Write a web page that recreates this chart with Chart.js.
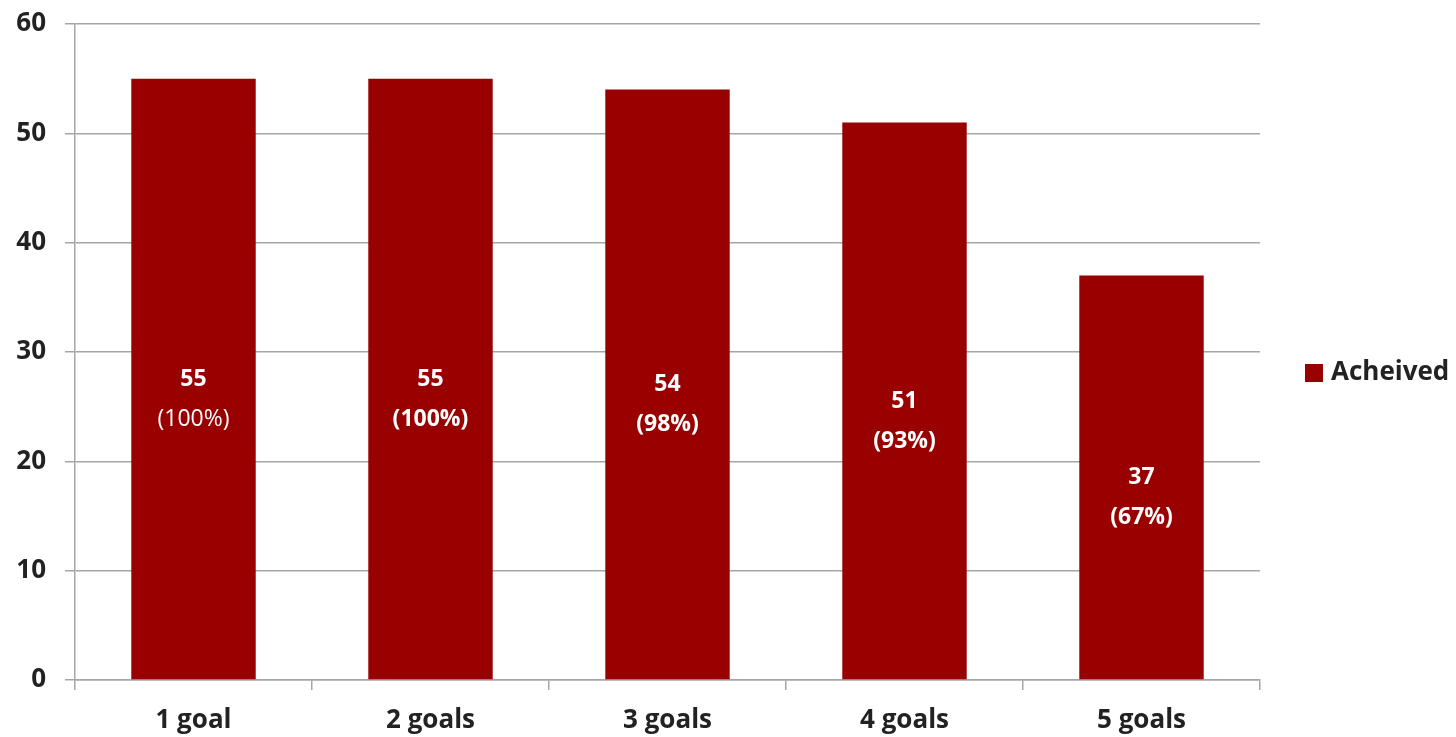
<!DOCTYPE html>
<html>
<head>
<meta charset="utf-8">
<script src="https://cdn.jsdelivr.net/npm/chart.js@4"></script>
<style>
html,body{margin:0;padding:0;background:#fff;}
#wrap{width:1456px;height:737px;}
</style>
</head>
<body>
<div id="wrap"><canvas id="c" width="1456" height="737"></canvas></div>
<script>
const categories = ["1 goal", "2 goals", "3 goals", "4 goals", "5 goals"];
const achieved = [55, 55, 54, 51, 37];
const percentLabels = ["(100%)", "(100%)", "(98%)", "(93%)", "(67%)"];
const yTicks = [0, 10, 20, 30, 40, 50, 60];
const seriesName = "Acheived";

const FONT = "'Open Sans', Lato, sans-serif";
const BAR = "#990000";
const GRID = "#a6a6a6";

const labelPlugin = {
  id: 'labels',
  afterDatasetsDraw(chart) {
    const ctx = chart.ctx;
    const meta = chart.getDatasetMeta(0);
    const y = chart.scales.y;
    ctx.save();
    ctx.fillStyle = "#ffffff";
    ctx.textAlign = "center";
    ctx.textBaseline = "middle";
    meta.data.forEach((bar, i) => {
      const v = achieved[i];
      const py = y.getPixelForValue(v / 2);
      ctx.font = "bold 23px " + FONT;
      ctx.fillText(String(v), bar.x, py);
      ctx.font = (i === 0 ? "normal" : "bold") + " 23px " + FONT;
      ctx.fillText(percentLabels[i], bar.x, py + 40);
    });
    ctx.restore();
  }
};

const legendPlugin = {
  id: 'customLegend',
  afterDraw(chart) {
    const ctx = chart.ctx;
    const ca = chart.chartArea;
    const cy = (ca.top + ca.bottom) / 2 + 21;
    ctx.save();
    ctx.fillStyle = BAR;
    ctx.fillRect(1305, cy - 9, 18, 18);
    ctx.fillStyle = "#222222";
    ctx.font = "bold 26px " + FONT;
    ctx.textAlign = "left";
    ctx.textBaseline = "middle";
    ctx.fillText(seriesName, 1331, cy);
    ctx.restore();
  }
};

new Chart(document.getElementById('c'), {
  type: 'bar',
  data: {
    labels: categories,
    datasets: [{
      label: seriesName,
      data: achieved,
      backgroundColor: BAR,
      borderWidth: 0,
      categoryPercentage: 1.0,
      barPercentage: 0.525
    }]
  },
  options: {
    responsive: false,
    animation: false,
    layout: { padding: { top: 24, right: 196, left: 0, bottom: 0 } },
    plugins: {
      legend: { display: false },
      tooltip: { enabled: false }
    },
    scales: {
      x: {
        grid: {
          offset: true,
          drawOnChartArea: false,
          drawTicks: true,
          tickLength: 10,
          color: GRID,
          lineWidth: 1.5
        },
        border: { display: true, color: GRID, width: 1.5 },
        ticks: {
          color: "#222222",
          font: { family: FONT, size: 26, weight: 'bold' },
          padding: 15
        },
        afterFit(scale) { scale.height = 57; }
      },
      y: {
        min: 0,
        max: 60,
        afterBuildTicks(scale) { scale.ticks = yTicks.map(v => ({ value: v })); },
        grid: {
          color: GRID,
          lineWidth: 1.5,
          tickLength: 10
        },
        border: { display: true, color: GRID, width: 1.5 },
        ticks: {
          color: "#222222",
          font: { family: FONT, size: 26, weight: 'bold' },
          padding: 19
        },
        afterFit(scale) { scale.width = 75; scale.paddingTop = 0; scale.paddingBottom = 0; }
      }
    }
  },
  plugins: [labelPlugin, legendPlugin]
});
</script>
</body>
</html>
